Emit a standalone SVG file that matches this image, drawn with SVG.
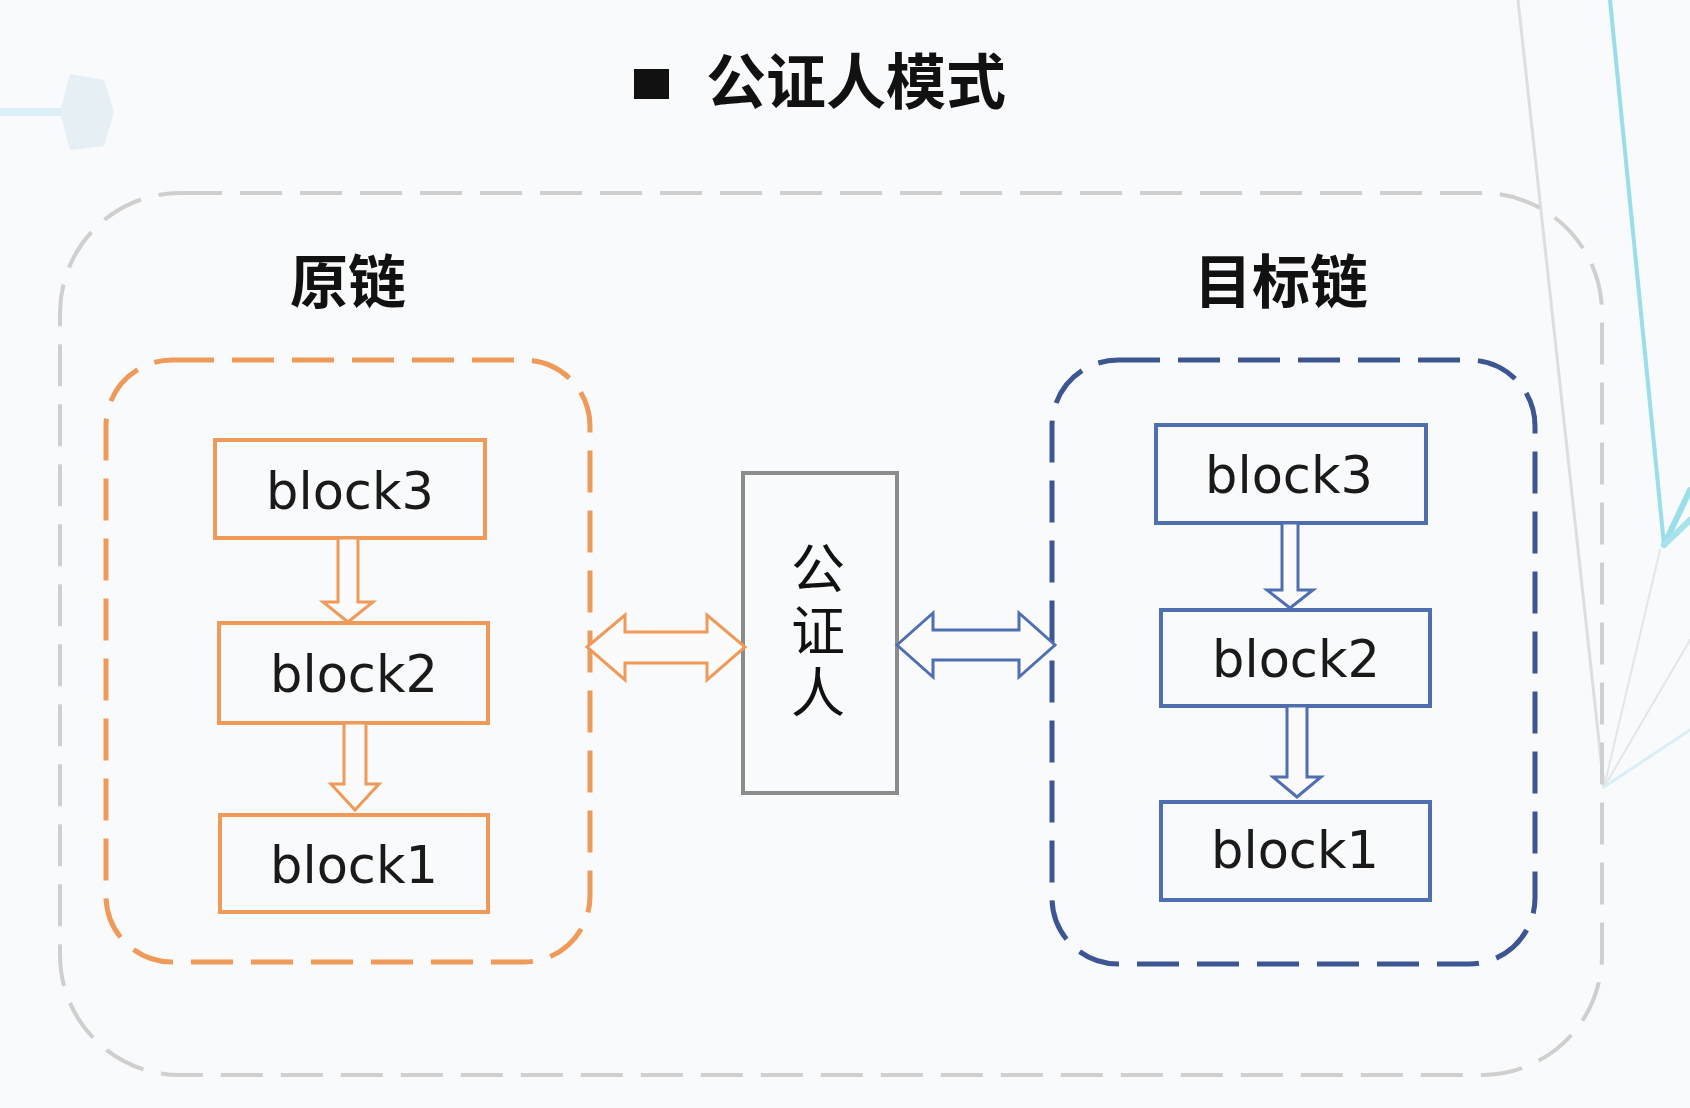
<svg xmlns="http://www.w3.org/2000/svg" width="1690" height="1108" viewBox="0 0 1690 1108">
<style>
.cn{font-family:"Noto Sans CJK SC","Noto Sans",sans-serif;fill:#111}
.blk{font-family:"DejaVu Sans",sans-serif;font-size:51px;fill:#1a1a1a;text-anchor:middle}
.ob{fill:none;stroke:#ef9a58;stroke-width:4}
.bb{fill:none;stroke:#4f6fb0;stroke-width:4}
.oa{fill:#fbfbfb;stroke:#ef9a58;stroke-width:3;stroke-linejoin:miter}
.ba{fill:#fbfbfb;stroke:#4f6fb0;stroke-width:3;stroke-linejoin:miter}
.deco{fill:none;stroke-linecap:round}
</style>
<rect width="1690" height="1108" fill="#f9fafb"/>
<!-- faint background decoration -->
<g id="decoration" opacity="0.9">
<line x1="0" y1="112" x2="62" y2="112" stroke="#d9eef4" stroke-width="8"/>
<polygon points="70,74 104,80 114,112 104,146 70,150 60,112" fill="#e3eef4"/>
<line class="deco" x1="1518" y1="0" x2="1604" y2="787" stroke="#d6dde0" stroke-width="3"/>
<line class="deco" x1="1610" y1="0" x2="1664" y2="545" stroke="#8fdbe6" stroke-width="4"/>
<line class="deco" x1="1664" y1="545" x2="1690" y2="490" stroke="#8fdbe6" stroke-width="6"/>
<line class="deco" x1="1664" y1="545" x2="1690" y2="520" stroke="#9fe1ea" stroke-width="6"/>
<line class="deco" x1="1604" y1="787" x2="1660" y2="550" stroke="#dfe6e8" stroke-width="2"/>
<line class="deco" x1="1604" y1="787" x2="1690" y2="640" stroke="#dfe6e8" stroke-width="2"/>
<line class="deco" x1="1604" y1="787" x2="1690" y2="730" stroke="#d5f0f5" stroke-width="3"/>
</g>
<!-- title -->
<g id="title">
<rect x="634" y="69" width="35" height="30" fill="#111"/>
<text class="cn" x="706" y="104" font-size="60" font-weight="700">公证人模式</text>
</g>
<!-- outer container -->
<g id="outer">
<rect x="60" y="193" width="1542" height="882" rx="120" ry="120" fill="none" stroke="#cfcfcf" stroke-width="4" stroke-dasharray="42 18"/>
</g>
<!-- source chain -->
<g id="source-chain">
<text class="cn" x="348" y="303" font-size="58" font-weight="700" text-anchor="middle">原链</text>
<rect x="106" y="360" width="484" height="602" rx="66" ry="66" fill="none" stroke="#ef9a58" stroke-width="5" stroke-dasharray="42 18"/>
</g>
<g id="src-block3"><rect class="ob" x="215" y="440" width="270" height="98"/><text class="blk" x="350" y="509">block3</text></g>
<g id="src-block2"><rect class="ob" x="219" y="623" width="269" height="100"/><text class="blk" x="354" y="692">block2</text></g>
<g id="src-block1"><rect class="ob" x="220" y="815" width="268" height="97"/><text class="blk" x="354" y="883">block1</text></g>
<!-- target chain -->
<g id="target-chain">
<text class="cn" x="1281" y="303" font-size="58" font-weight="700" text-anchor="middle">目标链</text>
<rect x="1052" y="360" width="483" height="604" rx="66" ry="66" fill="none" stroke="#3d5591" stroke-width="5" stroke-dasharray="42 18"/>
</g>
<g id="tgt-block3"><rect class="bb" x="1156" y="425" width="270" height="98"/><text class="blk" x="1289" y="493">block3</text></g>
<g id="tgt-block2"><rect class="bb" x="1161" y="610" width="269" height="96"/><text class="blk" x="1296" y="677">block2</text></g>
<g id="tgt-block1"><rect class="bb" x="1161" y="802" width="269" height="98"/><text class="blk" x="1295" y="868">block1</text></g>
<!-- notary -->
<g id="notary">
<rect x="743" y="473" width="154" height="320" fill="none" stroke="#8c8c8c" stroke-width="4"/>
<text class="cn" x="818" y="634" font-size="54" text-anchor="middle" letter-spacing="8" style="writing-mode:vertical-rl">公证人</text>
</g>
<!-- connectors -->
<g id="connectors">
<polygon class="oa" points="338,538 358,538 358,602 373,602 348,622 323,602 338,602"/>
<polygon class="oa" points="344,723 366,723 366,784 379,784 355,810 331,784 344,784"/>
<polygon class="ba" points="1282,523 1298,523 1298,590 1313,590 1290,608 1267,590 1282,590"/>
<polygon class="ba" points="1287,706 1307,706 1307,777 1321,777 1297,797 1273,777 1287,777"/>
<polygon class="oa" points="587,647 625,615 625,632 707,632 707,615 745,647 707,680 707,663 625,663 625,680"/>
<polygon class="ba" points="897,645 933,613 933,630 1019,630 1019,613 1055,645 1019,677 1019,660 933,660 933,677"/>
</g>
</svg>
